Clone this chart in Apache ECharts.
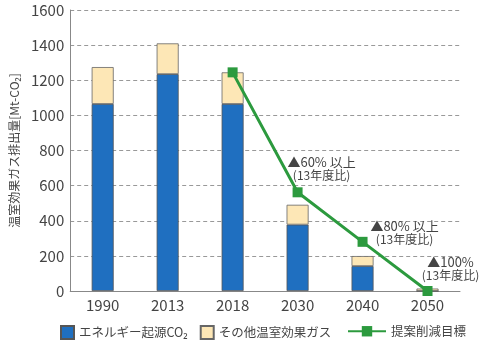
<!DOCTYPE html>
<html>
<head>
<meta charset="utf-8">
<script src="https://cdn.jsdelivr.net/npm/echarts@6/dist/echarts.min.js"></script>
<style>
  html, body { margin: 0; padding: 0; background: #fff; }
  #main { width: 479px; height: 344px; }
</style>
</head>
<body>
<div id="main"></div>
<script>
  // 年度
  const years = ['1990', '2013', '2018', '2030', '2040', '2050'];
  // エネルギー起源CO2
  const energyCO2 = [1065, 1235, 1065, 378, 142, 0];
  // その他温室効果ガス
  const otherGas = [210, 175, 180, 113, 57, 14];
  // 提案削減目標
  const target = [null, null, 1245, 562, 280, 0];
  const notes = [null, null, null, '▲60% 以上', '▲80% 以上', '▲100%'];
  const noteOffset = [null, null, null, [24, 0], [42, 14], [23, 1]];

  const font = '"Noto Sans CJK JP", "Noto Sans", sans-serif';
  let myChart = echarts.init(document.getElementById('main'));

  // 注記はラベルで付ける
  let lineData = target.map((v, i) => {
    if (!notes[i]) return v;
    return {
      value: v,
      label: {
        show: true,
        position: 'top',
        offset: noteOffset[i],
        formatter: '{a|' + notes[i] + '}\n{b|(13年度比)}',
        rich: {
          a: { fontSize: 13, color: '#444', fontFamily: font, lineHeight: 14, align: 'center' },
          b: { fontSize: 12, color: '#444', fontFamily: font, lineHeight: 13, align: 'center' }
        }
      }
    };
  });

  let option = {
    animation: false,
    grid: { left: 57, right: 19, top: 10, bottom: 53 },
    legend: [
      {
        data: ['エネルギー起源CO₂', 'その他温室効果ガス'],
        left: 55, top: 320,
        itemWidth: 13, itemHeight: 13, itemGap: 12,
        icon: 'rect',
        textStyle: { fontSize: 12.5, color: '#444', fontFamily: font }
      },
      {
        data: ['提案削減目標'],
        left: 342, top: 320,
        itemWidth: 38, itemHeight: 13,
        textStyle: { fontSize: 12.5, color: '#444', fontFamily: font }
      }
    ],
    xAxis: {
      type: 'category',
      data: years,
      axisLine: { lineStyle: { color: '#888' } },
      axisTick: { show: false },
      axisLabel: { fontSize: 15, color: '#444', fontFamily: font, margin: 7 }
    },
    yAxis: {
      type: 'value',
      min: 0, max: 1600, interval: 200,
      name: '温室効果ガス排出量[Mt-CO₂]',
      nameLocation: 'middle',
      nameRotate: 90,
      nameGap: 50,
      nameTextStyle: { fontSize: 12, color: '#444', fontFamily: font },
      axisLine: { show: true, lineStyle: { color: '#888' } },
      axisTick: { show: false },
      axisLabel: { fontSize: 15, color: '#444', fontFamily: font, margin: 6, formatter: (v) => String(v) },
      splitLine: { lineStyle: { color: '#999', type: [4, 3] } }
    },
    series: [
      {
        name: 'エネルギー起源CO₂',
        type: 'bar', stack: 'ghg',
        barWidth: 22,
        data: energyCO2,
        itemStyle: { color: '#1f6fc0', borderColor: '#555', borderWidth: 0.8 }
      },
      {
        name: 'その他温室効果ガス',
        type: 'bar', stack: 'ghg',
        barWidth: 22,
        data: otherGas,
        itemStyle: { color: '#fde7b6', borderColor: '#666', borderWidth: 0.8 }
      },
      {
        name: '提案削減目標',
        type: 'line',
        data: lineData,
        symbol: 'rect',
        symbolSize: 10,
        lineStyle: { color: '#2c9a3e', width: 3 },
        itemStyle: { color: '#2c9a3e' },
        z: 5
      }
    ]
  };
  myChart.setOption(option);
</script>
</body>
</html>
